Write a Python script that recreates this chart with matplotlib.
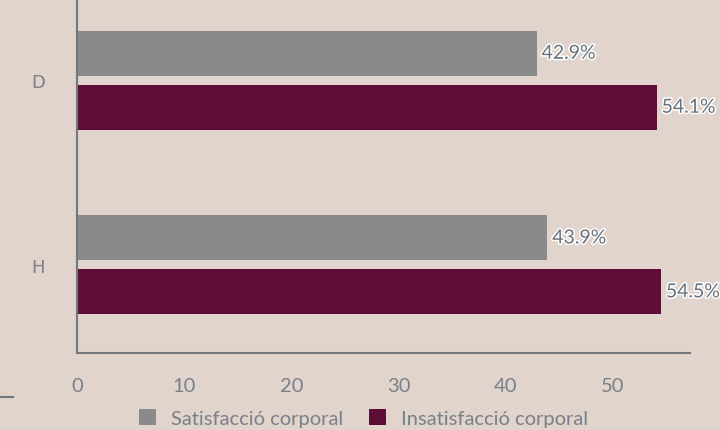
import numpy as np
import matplotlib.pyplot as plt
import matplotlib.patheffects as pe

groups = ['D', 'H']
satisfaccio = [42.9, 43.9]
insatisfaccio = [54.1, 54.5]
series_names = ['Satisfacció corporal', 'Insatisfacció corporal']

bg = '#e0d4cc'
grey = '#8a8a8a'
maroon = '#5e0e36'
txt = '#7b8088'

fig = plt.figure(figsize=(7.2, 4.31), dpi=100, facecolor=bg)
ax = fig.add_axes([77 / 720, 1 - 354 / 431, (690 - 77) / 720, 354 / 431])
ax.set_facecolor(bg)

y = np.arange(len(groups))
h = 0.244
off = 0.146
b1 = ax.barh(y - off, satisfaccio, h, color=grey, label=series_names[0])
b2 = ax.barh(y + off, insatisfaccio, h, color=maroon, label=series_names[1])

stroke = [pe.withStroke(linewidth=2.2, foreground='white')]
for bars, vals in ((b1, satisfaccio), (b2, insatisfaccio)):
    for r, v in zip(bars, vals):
        ax.text(v + 0.45, r.get_y() + r.get_height() / 2, f'{v}%', va='center', ha='left',
                fontsize=14, family='Lato', color='#66707c',
                path_effects=stroke, clip_on=False)

ax.set_xlim(0, 57.2)
ax.set_ylim(1.477, -0.44)
ax.set_xticks([0, 10, 20, 30, 40, 50])
ax.set_yticks(y)
ax.set_yticklabels(groups)
ax.tick_params(axis='x', length=0, pad=17, labelsize=14.5, labelcolor=txt)
ax.tick_params(axis='y', length=0, pad=23, labelsize=13, labelcolor=txt)
for lab in ax.get_xticklabels():
    lab.set_family('Lato')

for s in ['top', 'right']:
    ax.spines[s].set_visible(False)
for s in ['left', 'bottom']:
    ax.spines[s].set_color('#737880')
    ax.spines[s].set_linewidth(1.5)

fig.add_artist(plt.Line2D([0, 13 / 720], [1 - 398 / 431] * 2, color='#737880', lw=1.5))

leg = fig.legend(loc='lower center', bbox_to_anchor=(0.505, -0.035), ncol=2, frameon=False,
                 prop={'family': 'Lato', 'size': 14.5}, labelcolor=txt,
                 handlelength=0.85, handleheight=0.85, columnspacing=1.3, handletextpad=0.75)

fig.savefig('out.png', dpi=100, facecolor=bg)
